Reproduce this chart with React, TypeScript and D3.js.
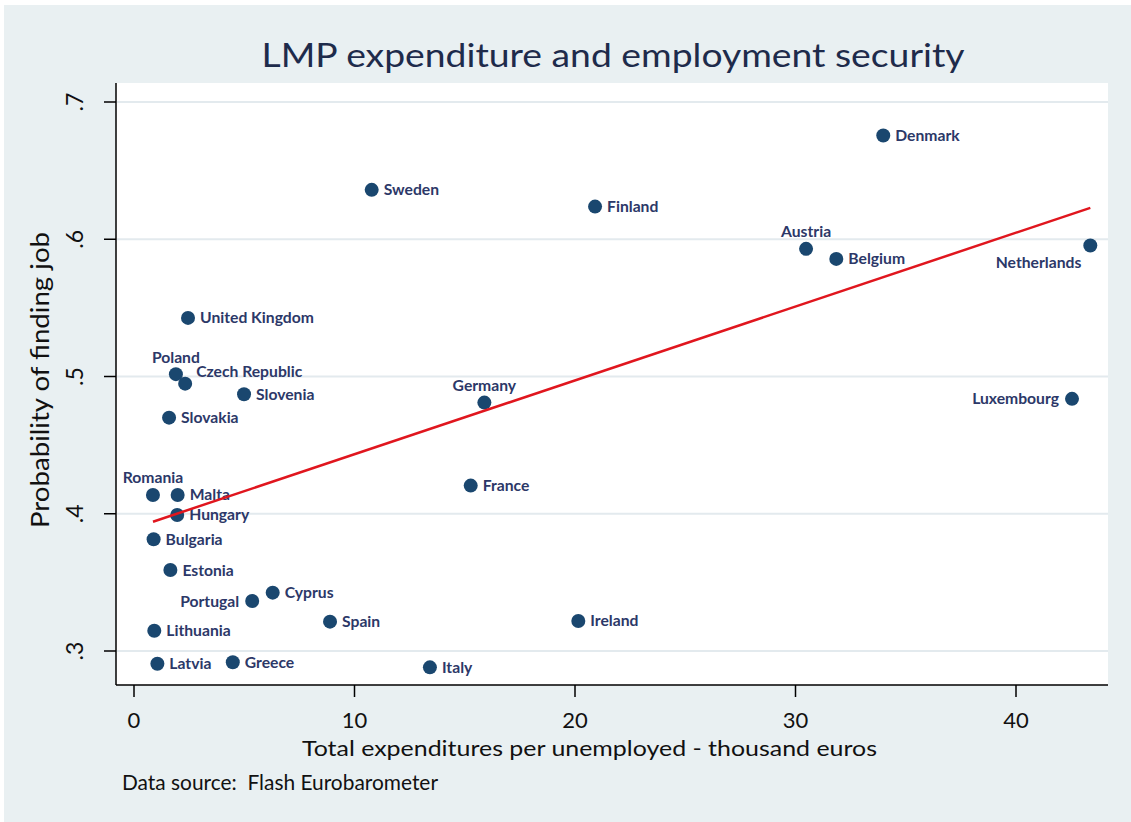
import React from "react";
import * as d3 from "d3";

const countries = [
  "Denmark", "Sweden", "Finland", "Austria", "Belgium", "Netherlands",
  "United Kingdom", "Poland", "Czech Republic", "Slovenia", "Slovakia",
  "Germany", "Luxembourg", "Romania", "Malta", "Hungary", "France",
  "Bulgaria", "Estonia", "Cyprus", "Portugal", "Spain", "Ireland",
  "Lithuania", "Latvia", "Greece", "Italy",
];
const expenditure = [
  33.98, 10.78, 20.91, 30.48, 31.85, 43.37,
  2.45, 1.9, 2.32, 4.99, 1.59,
  15.89, 42.54, 0.86, 1.98, 1.96, 15.27,
  0.89, 1.65, 6.29, 5.36, 8.89, 20.15,
  0.92, 1.06, 4.48, 13.42,
];
const probability = [
  0.6756, 0.636, 0.6238, 0.593, 0.5857, 0.5954,
  0.5427, 0.5017, 0.4948, 0.4871, 0.47,
  0.481, 0.4837, 0.4137, 0.4137, 0.3991, 0.4205,
  0.3814, 0.359, 0.3425, 0.3364, 0.3214, 0.3219,
  0.3148, 0.2907, 0.2918, 0.2881,
];
// label position (clock-style): r = 3, t = 12, l = 9, tr = 2, bl = 7
const labelPos = [
  "r", "r", "r", "t", "r", "bl",
  "r", "t", "tr", "r", "r",
  "t", "l", "t", "r", "r", "r",
  "r", "r", "r", "l", "r", "r",
  "r", "r", "r", "r",
];
const xTicks = [0, 10, 20, 30, 40];
const yTicks = [0.3, 0.4, 0.5, 0.6, 0.7];
const yTickLabels = [".3", ".4", ".5", ".6", ".7"];
// fitted line endpoints
const fitX = [0.86, 43.37];
const fitY = [0.3942, 0.6229];

const W = 1131;
const H = 822;
const plot = { left: 116, right: 1108, top: 83, bottom: 685 };
const FONT = "Lato, 'Open Sans', sans-serif";

export default function App() {
  const x = d3.scaleLinear().domain([0, 40]).range([134, 1016]);
  const y = d3.scaleLinear().domain([0.3, 0.7]).range([651, 102]);
  const line = d3
    .line<number>()
    .x((d, i) => x(fitX[i]))
    .y((d) => y(d));

  const labelProps = (pos: string, cx: number, cy: number) => {
    switch (pos) {
      case "t":
        return { x: cx, y: cy - 17, anchor: "middle" };
      case "l":
        return { x: cx - 13, y: cy, anchor: "end" };
      case "tr":
        return { x: cx + 11, y: cy - 12, anchor: "start" };
      case "bl":
        return { x: cx - 9, y: cy + 17, anchor: "end" };
      default:
        return { x: cx + 12, y: cy, anchor: "start" };
    }
  };

  return (
    <svg
      width={W}
      height={H}
      viewBox={`0 0 ${W} ${H}`}
      style={{ position: "absolute", left: 0, top: 0, background: "#ffffff" }}
    >
      <rect x={4} y={5} width={W - 4} height={H - 5} fill="#e9f0f2" />
      <rect
        x={plot.left}
        y={plot.top}
        width={plot.right - plot.left}
        height={plot.bottom - plot.top}
        fill="#ffffff"
      />
      <text
        x={613}
        y={67}
        textAnchor="middle"
        fontFamily={FONT}
        fontSize={33}
        fill="#1e2b4b"
        textLength={703}
        lengthAdjust="spacingAndGlyphs"
      >
        LMP expenditure and employment security
      </text>

      {/* gridlines */}
      {yTicks.map((t) => (
        <line
          key={"g" + t}
          x1={plot.left + 1}
          x2={plot.right}
          y1={y(t)}
          y2={y(t)}
          stroke="#e3eaee"
          strokeWidth={2}
        />
      ))}

      {/* axes */}
      <line x1={plot.left} x2={plot.left} y1={plot.top} y2={plot.bottom} stroke="#000" strokeWidth={1.5} />
      <line x1={plot.left} x2={plot.right} y1={plot.bottom} y2={plot.bottom} stroke="#000" strokeWidth={1.5} />
      {yTicks.map((t, i) => (
        <g key={"yt" + t}>
          <line x1={plot.left - 12} x2={plot.left} y1={y(t)} y2={y(t)} stroke="#000" strokeWidth={1.5} />
          <text
            transform={`translate(83,${y(t)}) rotate(-90)`}
            textAnchor="middle"
            fontFamily={FONT}
            fontSize={23}
            fill="#111"
          >
            {yTickLabels[i]}
          </text>
        </g>
      ))}
      {xTicks.map((t) => (
        <g key={"xt" + t}>
          <line x1={x(t)} x2={x(t)} y1={plot.bottom} y2={plot.bottom + 12} stroke="#000" strokeWidth={1.5} />
          <text x={x(t)} y={728} textAnchor="middle" fontFamily={FONT} fontSize={22} fill="#111">
            {t}
          </text>
        </g>
      ))}
      <text
        x={589.5}
        y={756}
        textAnchor="middle"
        fontFamily={FONT}
        fontSize={22}
        fill="#111"
        textLength={575}
        lengthAdjust="spacingAndGlyphs"
      >
        Total expenditures per unemployed - thousand euros
      </text>
      <text
        transform="translate(49,380) rotate(-90)"
        textAnchor="middle"
        fontFamily={FONT}
        fontSize={25}
        fill="#111"
        textLength={296}
        lengthAdjust="spacingAndGlyphs"
      >
        Probability of finding job
      </text>
      <text
        x={122}
        y={790}
        fontFamily={FONT}
        fontSize={21}
        fill="#111"
        textLength={316}
        lengthAdjust="spacingAndGlyphs"
        xmlSpace="preserve"
      >
        Data source:  Flash Eurobarometer
      </text>

      {/* scatter */}
      {countries.map((c, i) => {
        const cx = x(expenditure[i]);
        const cy = y(probability[i]);
        const lp = labelProps(labelPos[i], cx, cy);
        return (
          <g key={c}>
            <circle cx={cx} cy={cy} r={7} fill="#1a476f" />
            <text
              x={lp.x}
              y={lp.y}
              dy="0.35em"
              textAnchor={lp.anchor as any}
              fontFamily={FONT}
              fontWeight="bold"
              fontSize={15.7}
              fill="#2c3868"
            >
              {c}
            </text>
          </g>
        );
      })}

      {/* fitted line */}
      <path d={line(fitY) || ""} fill="none" stroke="#e0161e" strokeWidth={2.5} />
    </svg>
  );
}
